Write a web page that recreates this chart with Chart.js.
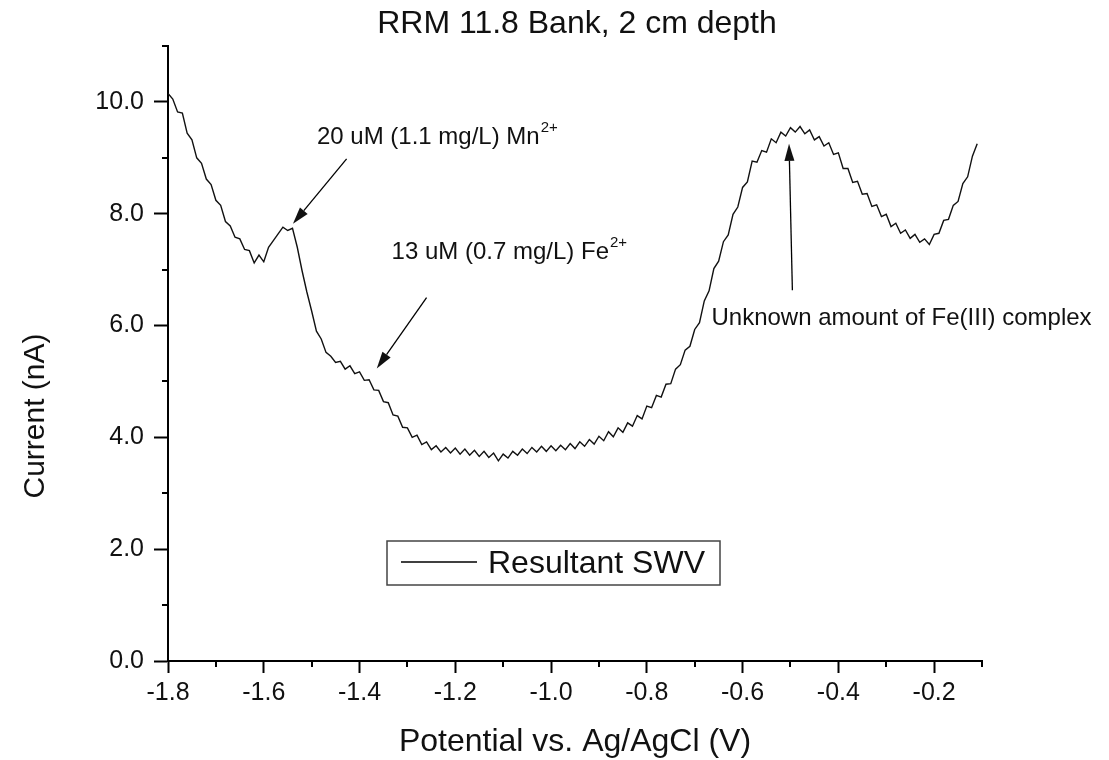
<!DOCTYPE html>
<html>
<head>
<meta charset="utf-8">
<script src="https://cdn.jsdelivr.net/npm/chart.js"></script>
<style>
html, body { margin: 0; padding: 0; background: #fff; }
#wrap { width: 1109px; height: 760px; }
</style>
</head>
<body>
<div id="wrap"><canvas id="swvchart" width="1109" height="760"></canvas></div>
<script>
// square wave voltammogram, RRM 11.8 bank sediment at 2 cm
var potential = [
  -1.80, -1.79, -1.78, -1.77, -1.76, -1.75, -1.74, -1.73, -1.72, -1.71,
  -1.70, -1.69, -1.68, -1.67, -1.66, -1.65, -1.64, -1.63, -1.62, -1.61,
  -1.60, -1.59, -1.58, -1.57, -1.56, -1.55, -1.54, -1.53, -1.52, -1.51,
  -1.50, -1.49, -1.48, -1.47, -1.46, -1.45, -1.44, -1.43, -1.42, -1.41,
  -1.40, -1.39, -1.38, -1.37, -1.36, -1.35, -1.34, -1.33, -1.32, -1.31,
  -1.30, -1.29, -1.28, -1.27, -1.26, -1.25, -1.24, -1.23, -1.22, -1.21,
  -1.20, -1.19, -1.18, -1.17, -1.16, -1.15, -1.14, -1.13, -1.12, -1.11,
  -1.10, -1.09, -1.08, -1.07, -1.06, -1.05, -1.04, -1.03, -1.02, -1.01,
  -1.00, -0.99, -0.98, -0.97, -0.96, -0.95, -0.94, -0.93, -0.92, -0.91,
  -0.90, -0.89, -0.88, -0.87, -0.86, -0.85, -0.84, -0.83, -0.82, -0.81,
  -0.80, -0.79, -0.78, -0.77, -0.76, -0.75, -0.74, -0.73, -0.72, -0.71,
  -0.70, -0.69, -0.68, -0.67, -0.66, -0.65, -0.64, -0.63, -0.62, -0.61,
  -0.60, -0.59, -0.58, -0.57, -0.56, -0.55, -0.54, -0.53, -0.52, -0.51,
  -0.50, -0.49, -0.48, -0.47, -0.46, -0.45, -0.44, -0.43, -0.42, -0.41,
  -0.40, -0.39, -0.38, -0.37, -0.36, -0.35, -0.34, -0.33, -0.32, -0.31,
  -0.30, -0.29, -0.28, -0.27, -0.26, -0.25, -0.24, -0.23, -0.22, -0.21,
  -0.20, -0.19, -0.18, -0.17, -0.16, -0.15, -0.14, -0.13, -0.12, -0.11
];
var current = [
  10.15, 10.05, 9.82, 9.80, 9.44, 9.32, 9.00, 8.90, 8.62, 8.52,
  8.24, 8.15, 7.86, 7.78, 7.58, 7.55, 7.36, 7.34, 7.12, 7.26,
  7.14, 7.40, 7.52, 7.64, 7.76, 7.70, 7.74, 7.40, 6.98, 6.60,
  6.26, 5.90, 5.76, 5.52, 5.45, 5.34, 5.36, 5.22, 5.28, 5.14,
  5.17, 5.02, 5.03, 4.85, 4.84, 4.64, 4.62, 4.40, 4.38, 4.18,
  4.17, 4.00, 4.04, 3.87, 3.92, 3.78, 3.85, 3.74, 3.82, 3.72,
  3.81, 3.70, 3.79, 3.68, 3.77, 3.66, 3.75, 3.64, 3.72, 3.58,
  3.70, 3.63, 3.75, 3.68, 3.79, 3.71, 3.82, 3.74, 3.84, 3.75,
  3.85, 3.76, 3.86, 3.78, 3.89, 3.80, 3.92, 3.84, 3.96, 3.88,
  4.02, 3.94, 4.10, 4.01, 4.17, 4.09, 4.26, 4.20, 4.39, 4.33,
  4.56, 4.53, 4.75, 4.72, 4.95, 4.96, 5.22, 5.30, 5.56, 5.63,
  5.93, 6.05, 6.44, 6.62, 7.02, 7.15, 7.50, 7.62, 7.99, 8.12,
  8.47, 8.57, 8.94, 8.92, 9.13, 9.10, 9.34, 9.27, 9.46, 9.39,
  9.54, 9.46, 9.56, 9.43, 9.50, 9.32, 9.38, 9.21, 9.27, 9.06,
  9.09, 8.81, 8.81, 8.56, 8.58, 8.35, 8.36, 8.13, 8.16, 7.95,
  7.99, 7.77, 7.83, 7.65, 7.71, 7.56, 7.63, 7.49, 7.55, 7.45,
  7.63, 7.65, 7.88, 7.90, 8.15, 8.22, 8.54, 8.66, 9.03, 9.25
];
var xTickLabels = ['-1.8', '-1.6', '-1.4', '-1.2', '-1.0', '-0.8', '-0.6', '-0.4', '-0.2'];
var yTickLabels = ['0.0', '2.0', '4.0', '6.0', '8.0', '10.0'];
var seriesName = 'Resultant SWV';

// peak notes: text, superscript, text anchor, arrow tail -> head (axis units)
var notes = [
  { text: '20 uM (1.1 mg/L) Mn', sup: '2+', tx: -1.489, ty: 9.36, from: [-1.427, 8.98], to: [-1.539, 7.82] },
  { text: '13 uM (0.7 mg/L) Fe', sup: '2+', tx: -1.333, ty: 7.30, from: [-1.260, 6.50], to: [-1.364, 5.23] },
  { text: 'Unknown amount of Fe(III) complex', sup: '', tx: -0.665, ty: 6.13, from: [-0.496, 6.63], to: [-0.503, 9.25] }
];

var FONT = '"Liberation Sans", Arial, sans-serif';

function labelFor(list, value) {
  for (var i = 0; i < list.length; i++) {
    if (Math.abs(parseFloat(list[i]) - value) < 1e-6) return list[i];
  }
  return '';
}

var points = potential.map(function (v, i) { return { x: v, y: current[i] }; });

function arrow(c, x1, y1, x2, y2) {
  var ang = Math.atan2(y2 - y1, x2 - x1), len = 17, half = 5;
  c.beginPath();
  c.moveTo(x1, y1);
  c.lineTo(x2 - Math.cos(ang) * len, y2 - Math.sin(ang) * len);
  c.stroke();
  c.beginPath();
  c.moveTo(x2, y2);
  c.lineTo(x2 - Math.cos(ang) * len - Math.sin(ang) * half, y2 - Math.sin(ang) * len + Math.cos(ang) * half);
  c.lineTo(x2 - Math.cos(ang) * len + Math.sin(ang) * half, y2 - Math.sin(ang) * len - Math.cos(ang) * half);
  c.closePath();
  c.fill();
}

var extras = {
  id: 'extras',
  afterDraw: function (chart) {
    var c = chart.ctx, xs = chart.scales.x, ys = chart.scales.y, a = chart.chartArea;
    c.save();
    c.strokeStyle = '#000';
    c.fillStyle = '#111';
    c.lineWidth = 2;

    // short unlabelled ticks
    c.beginPath();
    xs.ticks.forEach(function (t) {
      if (labelFor(xTickLabels, t.value)) return;
      var px = Math.round(xs.getPixelForValue(t.value));
      c.moveTo(px, a.bottom);
      c.lineTo(px, a.bottom + 6);
    });
    ys.ticks.forEach(function (t) {
      if (labelFor(yTickLabels, t.value)) return;
      var py = Math.round(ys.getPixelForValue(t.value));
      c.moveTo(a.left, py);
      c.lineTo(a.left - 6, py);
    });
    c.stroke();

    // titles
    c.textAlign = 'center';
    c.textBaseline = 'middle';
    c.font = '32px ' + FONT;
    c.fillText('RRM 11.8 Bank, 2 cm depth', 577, 24);
    c.fillText('Potential vs. Ag/AgCl (V)', (a.left + a.right) / 2, 742);
    c.font = '30px ' + FONT;
    c.save();
    c.translate(36, 416);
    c.rotate(-Math.PI / 2);
    c.fillText('Current (nA)', 0, 0);
    c.restore();

    // notes with arrows
    c.lineWidth = 1.3;
    c.textAlign = 'left';
    notes.forEach(function (n) {
      var x = xs.getPixelForValue(n.tx), y = ys.getPixelForValue(n.ty);
      c.font = '24px ' + FONT;
      c.fillText(n.text, x, y);
      if (n.sup) {
        var w = c.measureText(n.text).width;
        c.font = '15px ' + FONT;
        c.fillText(n.sup, x + w + 1, y - 10);
      }
      arrow(c, xs.getPixelForValue(n.from[0]), ys.getPixelForValue(n.from[1]),
               xs.getPixelForValue(n.to[0]), ys.getPixelForValue(n.to[1]));
    });

    // legend box
    var lx = a.left + 219, ly = a.top + 495, lw = 333, lh = 44;
    c.strokeStyle = '#444';
    c.lineWidth = 1.5;
    c.strokeRect(lx, ly, lw, lh);
    c.strokeStyle = '#000';
    c.lineWidth = 1.3;
    c.beginPath();
    c.moveTo(lx + 14, ly + 21);
    c.lineTo(lx + 90, ly + 21);
    c.stroke();
    c.font = '32px ' + FONT;
    c.textBaseline = 'middle';
    c.fillText(chart.data.datasets[0].label, lx + 101, ly + 23);
    c.restore();
  }
};

var ctx = document.getElementById('swvchart').getContext('2d');
var swvChart = new Chart(ctx, {
  type: 'line',
  data: {
    datasets: [{
      label: seriesName,
      data: points,
      borderColor: '#111',
      borderWidth: 1.4,
      pointRadius: 0,
      tension: 0,
      fill: false
    }]
  },
  options: {
    responsive: false,
    animation: false,
    devicePixelRatio: 1,
    layout: { padding: { top: 46, right: 127, left: 0, bottom: 0 } },
    plugins: { legend: { display: false }, title: { display: false }, tooltip: { enabled: false } },
    scales: {
      x: {
        type: 'linear',
        min: -1.8,
        max: -0.1,
        afterFit: function (s) { s.height = 99; },
        border: { display: true, color: '#000', width: 2 },
        grid: {
          drawOnChartArea: false,
          drawTicks: true,
          tickLength: 12,
          tickWidth: 2,
          tickColor: function (c) { return c.tick && labelFor(xTickLabels, c.tick.value) ? '#000' : 'rgba(0,0,0,0)'; }
        },
        ticks: {
          stepSize: 0.1,
          autoSkip: false,
          maxRotation: 0,
          padding: 5,
          color: '#111',
          font: { family: FONT, size: 25 },
          callback: function (v) { return labelFor(xTickLabels, v); }
        }
      },
      y: {
        type: 'linear',
        min: 0,
        max: 11,
        afterFit: function (s) { s.width = 168; },
        border: { display: true, color: '#000', width: 2 },
        grid: {
          drawOnChartArea: false,
          drawTicks: true,
          tickLength: 14,
          tickWidth: 2,
          tickColor: function (c) { return c.tick && labelFor(yTickLabels, c.tick.value) ? '#000' : 'rgba(0,0,0,0)'; }
        },
        ticks: {
          stepSize: 1,
          autoSkip: false,
          padding: 10,
          color: '#111',
          font: { family: FONT, size: 25 },
          callback: function (v) { return labelFor(yTickLabels, v); }
        }
      }
    }
  },
  plugins: [extras]
});
</script>
</body>
</html>
